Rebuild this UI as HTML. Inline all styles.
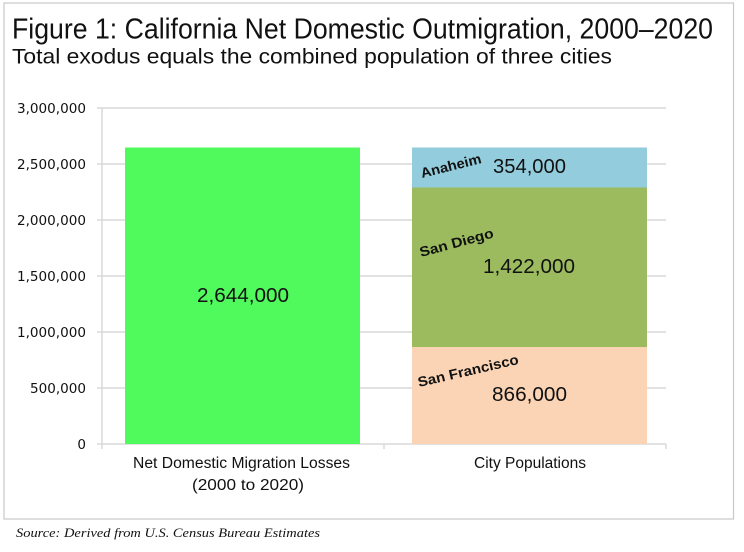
<!DOCTYPE html>
<html>
<head>
<meta charset="utf-8">
<style>
html,body{margin:0;padding:0;background:#fff;}
svg{display:block;}
</style>
</head>
<body>
<svg width="744" height="552" viewBox="0 0 744 552" xmlns="http://www.w3.org/2000/svg">
  <rect x="0" y="0" width="744" height="552" fill="#fff"/>
  <!-- frame -->
  <rect x="4" y="3" width="729.5" height="516" fill="#fff" stroke="#c8c8c8" stroke-width="1.2"/>

  <!-- title -->
  <text x="12" y="38.5" font-family="Liberation Sans, Arial, sans-serif" font-size="28.5" fill="#111" textLength="701" lengthAdjust="spacingAndGlyphs">Figure 1: California Net Domestic Outmigration, 2000–2020</text>
  <text x="12" y="63.5" font-family="Liberation Sans, Arial, sans-serif" font-size="21" fill="#111" textLength="600" lengthAdjust="spacingAndGlyphs">Total exodus equals the combined population of three cities</text>

  <!-- gridlines -->
  <g stroke="#d9d9d9" stroke-width="1.5">
    <line x1="97" y1="108" x2="666" y2="108"/>
    <line x1="97" y1="164" x2="666" y2="164"/>
    <line x1="97" y1="220" x2="666" y2="220"/>
    <line x1="97" y1="276" x2="666" y2="276"/>
    <line x1="97" y1="332" x2="666" y2="332"/>
    <line x1="97" y1="388" x2="666" y2="388"/>
    <line x1="97" y1="444" x2="666" y2="444"/>
    <line x1="102" y1="108" x2="102" y2="449"/>
    <line x1="384" y1="444" x2="384" y2="449"/>
    <line x1="666" y1="444" x2="666" y2="449"/>
  </g>

  <!-- y labels -->
  <g font-family="DejaVu Sans, Verdana, sans-serif" font-size="13.5" fill="#111" text-anchor="end">
    <text x="86" y="113" textLength="69" lengthAdjust="spacingAndGlyphs">3,000,000</text>
    <text x="86" y="169" textLength="69" lengthAdjust="spacingAndGlyphs">2,500,000</text>
    <text x="86" y="225" textLength="69" lengthAdjust="spacingAndGlyphs">2,000,000</text>
    <text x="86" y="281" textLength="69" lengthAdjust="spacingAndGlyphs">1,500,000</text>
    <text x="86" y="337" textLength="69" lengthAdjust="spacingAndGlyphs">1,000,000</text>
    <text x="86" y="393" textLength="56" lengthAdjust="spacingAndGlyphs">500,000</text>
    <text x="86" y="449">0</text>
  </g>

  <!-- bars -->
  <rect x="125" y="147.5" width="235" height="296.5" fill="#50FA5C"/>
  <rect x="412" y="347" width="235" height="97" fill="#FAD4B5"/>
  <rect x="412" y="187.5" width="235" height="159.5" fill="#9BBB5E"/>
  <rect x="412" y="147.5" width="235" height="40" fill="#93CDDD"/>

  <!-- value labels -->
  <g font-family="Liberation Sans, Carlito, Calibri, sans-serif" font-size="20" fill="#111">
    <text x="197" y="302" textLength="92" lengthAdjust="spacingAndGlyphs">2,644,000</text>
    <text x="493" y="173" textLength="73" lengthAdjust="spacingAndGlyphs">354,000</text>
    <text x="483" y="273" textLength="92" lengthAdjust="spacingAndGlyphs">1,422,000</text>
    <text x="492" y="401" textLength="75" lengthAdjust="spacingAndGlyphs">866,000</text>
  </g>

  <!-- city name labels -->
  <g font-family="Liberation Sans, Arial, sans-serif" font-size="14" font-weight="bold" fill="#111">
    <text transform="translate(422,178) rotate(-14)" textLength="62" lengthAdjust="spacingAndGlyphs">Anaheim</text>
    <text transform="translate(421,257) rotate(-15)" textLength="76" lengthAdjust="spacingAndGlyphs">San Diego</text>
    <text transform="translate(419,387) rotate(-13)" textLength="103" lengthAdjust="spacingAndGlyphs">San Francisco</text>
  </g>

  <!-- category labels -->
  <g font-family="Liberation Sans, Arial, sans-serif" font-size="15.5" fill="#111">
    <text x="133" y="468" textLength="217" lengthAdjust="spacingAndGlyphs">Net Domestic Migration Losses</text>
    <text x="192" y="490" textLength="112" lengthAdjust="spacingAndGlyphs">(2000 to 2020)</text>
    <text x="474" y="468" textLength="112" lengthAdjust="spacingAndGlyphs">City Populations</text>
  </g>

  <!-- source -->
  <text x="16" y="537" font-family="Liberation Serif, Georgia, serif" font-style="italic" font-size="12.5" fill="#111" textLength="304" lengthAdjust="spacingAndGlyphs">Source: Derived from U.S. Census Bureau Estimates</text>
</svg>
</body>
</html>
